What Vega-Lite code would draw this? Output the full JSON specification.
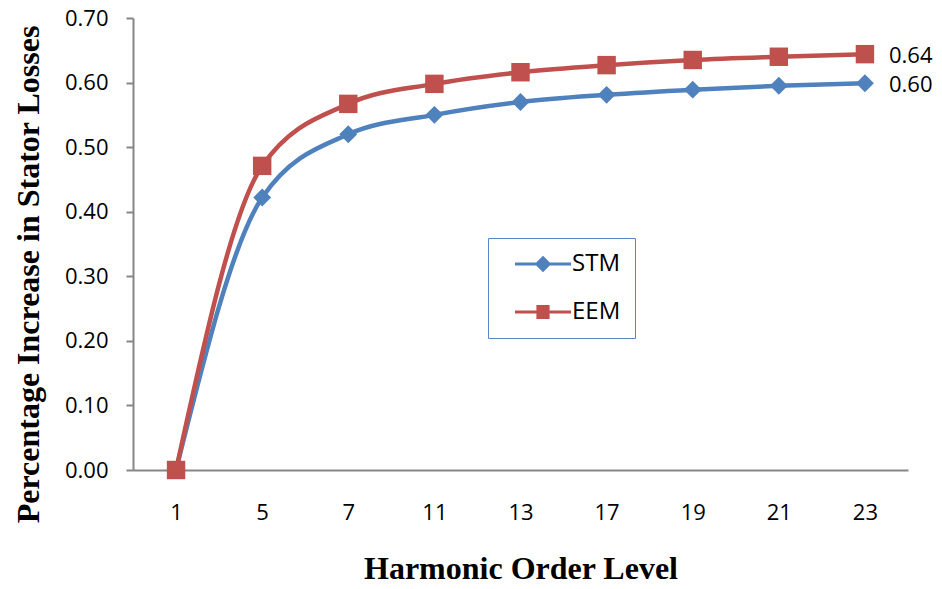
{
  "$schema": "https://vega.github.io/schema/vega-lite/v6.json",
  "width": 775,
  "height": 452,
  "autosize": {"type": "none"},
  "padding": {"left": 133, "top": 18, "right": 34, "bottom": 119},
  "config": {"view": {"stroke": null}, "font": "Open Sans"},
  "data": {
    "values": [
      {"order": "1", "series": "STM", "value": 0.0},
      {"order": "5", "series": "STM", "value": 0.422},
      {"order": "7", "series": "STM", "value": 0.52},
      {"order": "11", "series": "STM", "value": 0.55},
      {"order": "13", "series": "STM", "value": 0.57},
      {"order": "17", "series": "STM", "value": 0.581},
      {"order": "19", "series": "STM", "value": 0.589},
      {"order": "21", "series": "STM", "value": 0.595},
      {"order": "23", "series": "STM", "value": 0.599},
      {"order": "1", "series": "EEM", "value": 0.0},
      {"order": "5", "series": "EEM", "value": 0.471},
      {"order": "7", "series": "EEM", "value": 0.567},
      {"order": "11", "series": "EEM", "value": 0.598},
      {"order": "13", "series": "EEM", "value": 0.616},
      {"order": "17", "series": "EEM", "value": 0.627},
      {"order": "19", "series": "EEM", "value": 0.635},
      {"order": "21", "series": "EEM", "value": 0.64},
      {"order": "23", "series": "EEM", "value": 0.644}
    ]
  },
  "encoding": {
    "x": {
      "field": "order",
      "type": "ordinal",
      "sort": ["1", "5", "7", "11", "13", "17", "19", "21", "23"],
      "scale": {"type": "point", "padding": 0.5},
      "axis": {
        "title": "Harmonic Order Level",
        "labelAngle": 0,
        "ticks": false,
        "domainColor": "#868686",
        "domainWidth": 2,
        "labelPadding": 32,
        "labelFontSize": 22,
        "labelColor": "black",
        "titleFont": "Liberation Serif",
        "titleFontWeight": "bold",
        "titleFontSize": 32,
        "titleColor": "black",
        "titleY": 98,
        "titleBaseline": "middle"
      }
    },
    "y": {
      "field": "value",
      "type": "quantitative",
      "scale": {"domain": [0, 0.7], "nice": false},
      "axis": {
        "title": "Percentage Increase in Stator Losses",
        "values": [0, 0.1, 0.2, 0.3, 0.4, 0.5, 0.6, 0.7],
        "format": ".2f",
        "grid": false,
        "tickSize": 7,
        "tickColor": "#868686",
        "tickWidth": 2,
        "domainColor": "#868686",
        "domainWidth": 2,
        "labelPadding": 18,
        "labelFontSize": 22,
        "labelColor": "black",
        "titleFont": "Liberation Serif",
        "titleFontWeight": "bold",
        "titleFontSize": 32,
        "titleColor": "black",
        "titleX": -105,
        "titleY": 256,
        "titleBaseline": "middle"
      }
    }
  },
  "layer": [
    {
      "mark": {"type": "line", "interpolate": "monotone", "strokeWidth": 4.5},
      "encoding": {
        "color": {
          "field": "series",
          "type": "nominal",
          "scale": {"domain": ["STM", "EEM"], "range": ["#4F81BD", "#C0504D"]},
          "legend": {
            "orient": "none",
            "legendX": 355,
            "legendY": 220,
            "title": null,
            "strokeColor": "#5B86C5",
            "fillColor": "white",
            "padding": 14,
            "labelFont": "Open Sans",
            "labelFontSize": 24,
            "labelColor": "black",
            "symbolSize": 400,
            "labelOffset": 46,
            "rowPadding": 23,
            "symbolStrokeWidth": 3,
            "encode": {
              "symbols": {
                "update": {
                  "shape": {"signal": "datum.value === 'STM' ? 'M0.1,0H5.7M2.9,-0.6L3.5,0L2.9,0.6L2.3,0Z' : 'M0.1,0H5.7M2.4,-0.55H3.4V0.55H2.4Z'"},
                  "fill": {"scale": "color", "field": "value"},
                  "stroke": {"scale": "color", "field": "value"},
                  "strokeWidth": {"value": 3.2},
                  "opacity": {"value": 1}
                }
              }
            }
          }
        }
      }
    },
    {
      "transform": [{"filter": "datum.series === 'STM'"}],
      "mark": {"type": "point", "filled": true, "opacity": 1, "size": 320, "shape": "diamond", "color": "#4F81BD"}
    },
    {
      "transform": [{"filter": "datum.series === 'EEM'"}],
      "mark": {"type": "point", "filled": true, "opacity": 1, "size": 340, "shape": "square", "color": "#C0504D"}
    },
    {
      "transform": [{"filter": "datum.order === '23'"}],
      "mark": {"type": "text", "align": "left", "dx": 24, "dy": 2, "fontSize": 22, "color": "black"},
      "encoding": {
        "text": {"field": "value", "type": "quantitative", "format": ".2f"}
      }
    }
  ]
}
